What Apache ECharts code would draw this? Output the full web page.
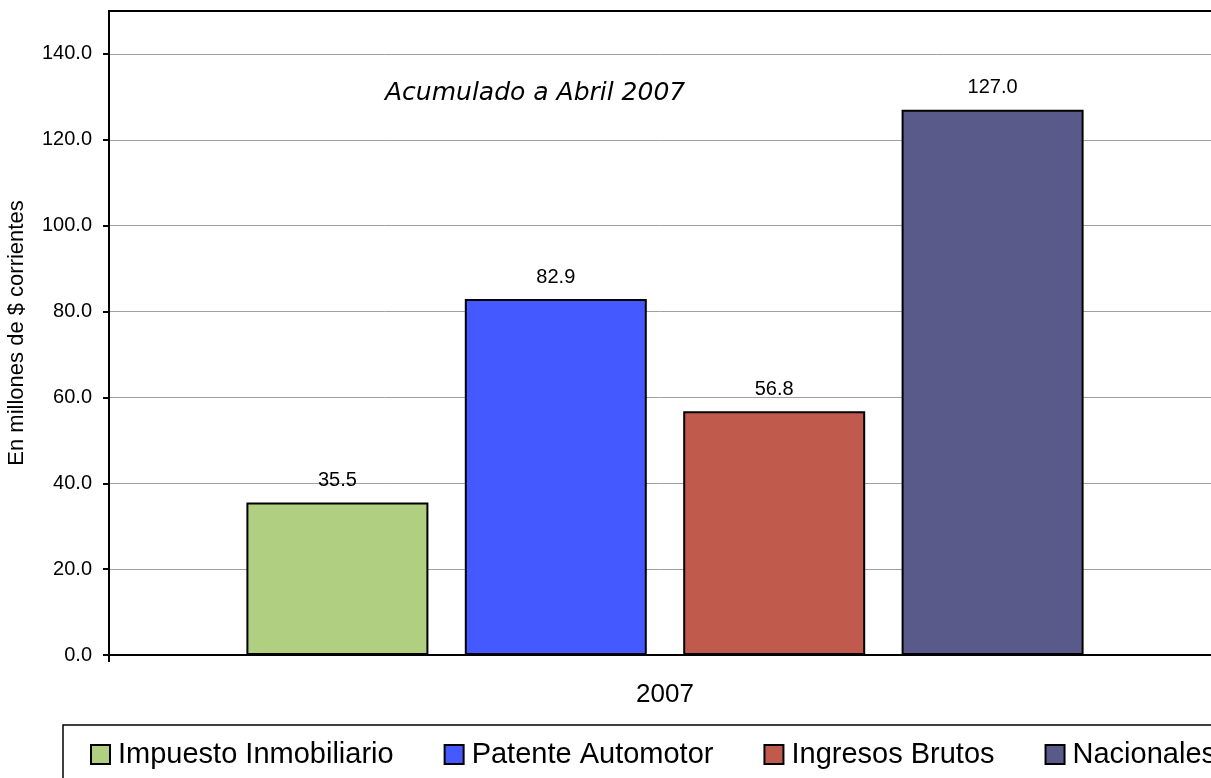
<!DOCTYPE html>
<html>
<head>
<meta charset="utf-8">
<script src="https://cdn.jsdelivr.net/npm/echarts@6/dist/echarts.min.js"></script>
<style>html,body{margin:0;padding:0;background:#fff}#c{width:1211px;height:778px}</style>
</head>
<body>
<div id="c"></div>
<script>
const categories = ['2007'];
const seriesNames = ['Impuesto Inmobiliario', 'Patente Automotor', 'Ingresos Brutos', 'Nacionales'];
const seriesValues = [35.5, 82.9, 56.8, 127.0];
const seriesColors = ['#b0cf80', '#4459ff', '#c05a4d', '#5a5a8a'];
const yTicks = [0, 20, 40, 60, 80, 100, 120, 140];
const titleText = 'Acumulado a Abril 2007';
const yAxisName = 'En millones de $ corrientes';

const chart = echarts.init(document.getElementById('c'));
const font = 'Liberation Sans, Arial, sans-serif';
chart.setOption({
  animation: false,
  backgroundColor: '#fff',
  title: {
    text: titleText, left: 380, top: 76,
    textStyle: {fontFamily: 'DejaVu Sans', fontStyle: 'italic', fontWeight: 'normal', fontSize: 25, color: '#000'}
  },
  grid: {left: 109, top: 11, width: 1112, height: 644, show: true, borderColor: '#000', borderWidth: 2,
    containLabel: false, outerBoundsMode: 'none'},
  legend: {
    data: seriesNames, left: 90, top: 740, width: 1500, padding: 0, itemWidth: 19, itemHeight: 19, itemGap: 50, icon: 'rect',
    textStyle: {fontFamily: font, fontSize: 29, lineHeight: 28, color: '#000', padding: [0, 0, 0, 3]}
  },
  xAxis: {
    type: 'category', data: categories,
    axisLine: {lineStyle: {color: '#000', width: 2}},
    axisTick: {show: true, length: 7, lineStyle: {color: '#000', width: 2}},
    axisLabel: {fontFamily: font, fontSize: 26, color: '#000', margin: 27}
  },
  yAxis: {
    type: 'value', min: 0, max: 150, interval: 20,
    name: yAxisName, nameLocation: 'middle', nameGap: 81, nameRotate: 90,
    nameTextStyle: {fontFamily: font, fontSize: 22, color: '#000'},
    axisLine: {show: true, lineStyle: {color: '#000', width: 2}},
    axisTick: {show: true, length: 6, customValues: yTicks, lineStyle: {color: '#000', width: 2}},
    axisLabel: {fontFamily: font, fontSize: 20, color: '#000', margin: 17, customValues: yTicks,
      formatter: v => v.toFixed(1)},
    splitLine: {lineStyle: {color: '#a0a0a0', width: 1}}
  },
  graphic: [{
    type: 'rect', shape: {x: 63, y: 725, width: 1200, height: 100},
    style: {fill: 'none', stroke: '#000', lineWidth: 1.5}, z: -1
  }],
  series: seriesNames.map((n, i) => ({
    name: n, type: 'bar', barWidth: 182, barGap: '20%',
    data: [seriesValues[i]],
    itemStyle: {color: seriesColors[i], borderColor: '#000', borderWidth: 2},
    label: {show: true, position: 'top', distance: 12, fontFamily: font, fontSize: 20, color: '#000',
      formatter: p => p.value.toFixed(1)}
  }))
});
</script>
</body>
</html>
